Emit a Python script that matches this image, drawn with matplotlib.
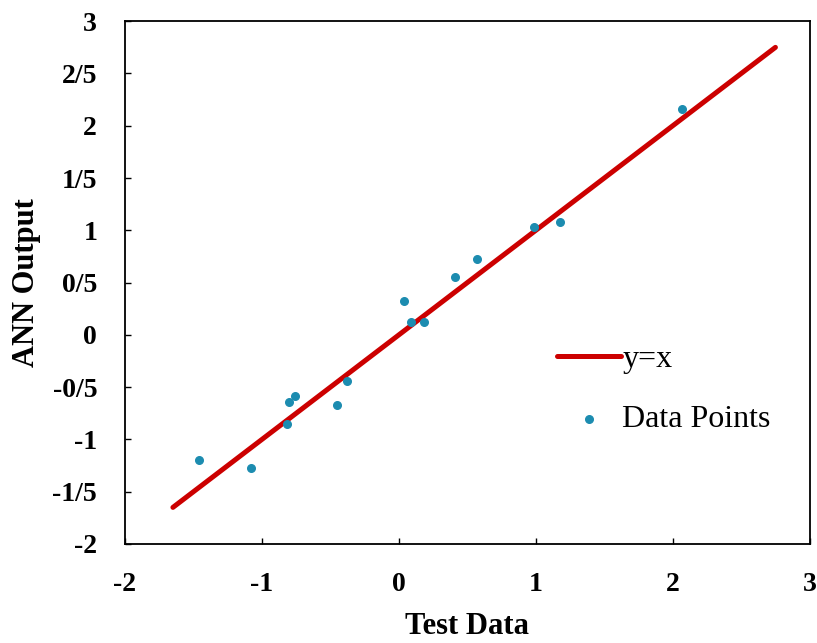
import matplotlib
matplotlib.use("Agg")
import matplotlib.pyplot as plt
import numpy as np

# test data vs network output
test_data = [-1.46, -1.08, -0.82, -0.80, -0.76, -0.45, -0.38, 0.04, 0.09, 0.18,
             0.41, 0.57, 0.99, 1.18, 2.07]
ann_output = [-1.20, -1.27, -0.85, -0.64, -0.58, -0.67, -0.44, 0.32, 0.12, 0.12,
              0.55, 0.73, 1.03, 1.08, 2.16]

line_range = [-1.65, 2.75]

xticks = [-2, -1, 0, 1, 2, 3]
xtick_labels = ['-2', '-1', '0', '1', '2', '3']
yticks = [-2, -1.5, -1, -0.5, 0, 0.5, 1, 1.5, 2, 2.5, 3]
ytick_labels = ['-2', '-1/5', '-1', '-0/5', '0', '0/5', '1', '1/5', '2', '2/5', '3']

plt.rcParams['font.family'] = ['Liberation Serif', 'DejaVu Serif']

fig = plt.figure(figsize=(8.17, 6.43), dpi=100)
ax = fig.add_axes([0.153, 0.154, 0.838, 0.813])

ax.plot(line_range, line_range, color='#cc0000', lw=3.6, label='y=x',
        solid_capstyle='round')
ax.scatter(test_data, ann_output, s=30, color='#1c8cb0', zorder=3,
           label='Data Points')

ax.set_xlim(-2, 3)
ax.set_ylim(-2, 3)
ax.set_xticks(xticks)
ax.set_xticklabels(xtick_labels)
ax.set_yticks(yticks)
ax.set_yticklabels(ytick_labels)
ax.tick_params(direction='in', length=4, width=1, pad=20, labelsize=20)
for lab in ax.get_xticklabels() + ax.get_yticklabels():
    lab.set_fontweight('bold')
for sp in ax.spines.values():
    sp.set_linewidth(1.3)

ax.set_xlabel('Test Data', fontsize=22, fontweight='bold', labelpad=11)
ax.set_ylabel('ANN Output', fontsize=22, fontweight='bold', labelpad=8)

ax.legend(loc='upper left', bbox_to_anchor=(0.612, 0.405), frameon=False,
          fontsize=23, handlelength=2.0, handletextpad=0.05, labelspacing=0.95,
          borderaxespad=0)

fig.savefig('out.png', dpi=100)
